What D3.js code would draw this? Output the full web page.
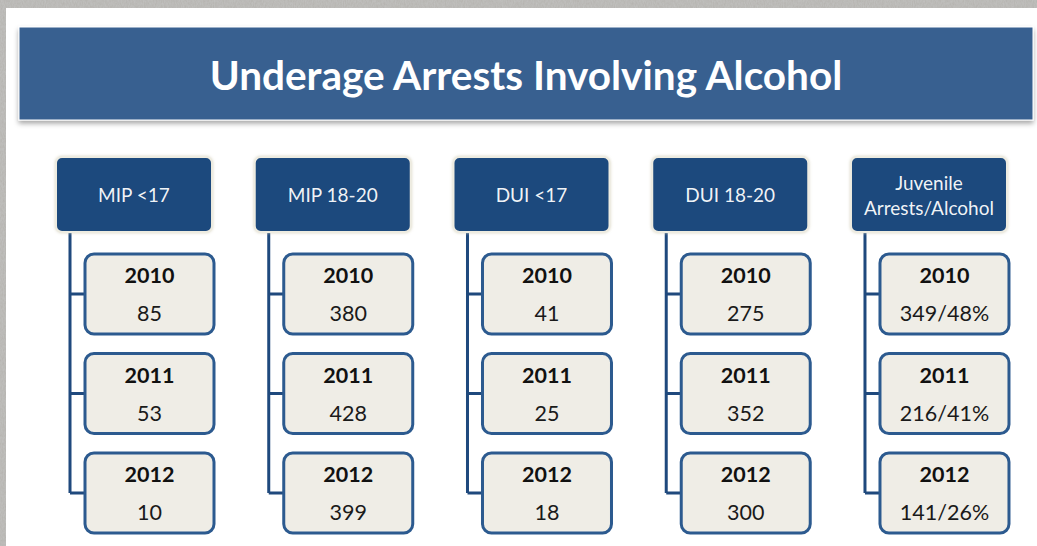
<!DOCTYPE html>
<html>
<head>
<meta charset="utf-8">
<script src="https://cdn.jsdelivr.net/npm/d3@7"></script>
<style>
  html, body { margin: 0; padding: 0; background: #a9a7a3; }
  svg { display: block; }
</style>
</head>
<body>
<div id="chart"></div>
<script>
'use strict'

// data
const title = "Underage Arrests Involving Alcohol";
const categories = ["MIP <17", "MIP 18-20", "DUI <17", "DUI 18-20", "Juvenile\nArrests/Alcohol"];
const years = ["2010", "2011", "2012"];
const values = [
  ["85", "53", "10"],
  ["380", "428", "399"],
  ["41", "25", "18"],
  ["275", "352", "300"],
  ["349/48%", "216/41%", "141/26%"]
];

// options
const width = 1037, height = 546;
const font = "Lato, 'Open Sans', sans-serif";
const dark = "#1f497d";
const titleBlue = "#386190";
const childFill = "#efede6";
const childStroke = "#2c5a8f";

const svg = d3.select('#chart').append('svg')
  .attr('width', width)
  .attr('height', height);

const defs = svg.append('defs');

// stone texture for the slide background
const tex = defs.append('filter').attr('id', 'stone')
  .attr('x', 0).attr('y', 0).attr('width', '100%').attr('height', '100%');
tex.append('feTurbulence')
  .attr('type', 'fractalNoise')
  .attr('baseFrequency', '0.9 0.35')
  .attr('numOctaves', 3)
  .attr('seed', 4)
  .attr('result', 'noise');
tex.append('feColorMatrix')
  .attr('type', 'matrix')
  .attr('values', '0 0 0 0 0.55  0 0 0 0 0.55  0 0 0 0 0.54  0 0 0 0.9 0')
  .attr('in', 'noise')
  .attr('result', 'tint');
tex.append('feComposite').attr('in', 'tint').attr('in2', 'SourceGraphic').attr('operator', 'over');

const shadow = defs.append('filter').attr('id', 'shadow')
  .attr('x', '-5%').attr('y', '-20%').attr('width', '110%').attr('height', '150%');
shadow.append('feDropShadow')
  .attr('dx', 0).attr('dy', 3).attr('stdDeviation', 2.5)
  .attr('flood-color', '#000').attr('flood-opacity', 0.35);

const glow = defs.append('filter').attr('id', 'glow')
  .attr('x', '-10%').attr('y', '-10%').attr('width', '120%').attr('height', '120%');
glow.append('feDropShadow')
  .attr('dx', 0).attr('dy', 0).attr('stdDeviation', 1.5)
  .attr('flood-color', '#d8d3c0').attr('flood-opacity', 0.9);

svg.append('rect')
  .attr('width', width).attr('height', height)
  .attr('fill', '#b4b2ae')
  .attr('filter', 'url(#stone)');

// white slide panel
svg.append('rect')
  .attr('x', 6).attr('y', 8)
  .attr('width', width - 6).attr('height', height)
  .attr('fill', '#ffffff');

// title bar
svg.append('rect')
  .attr('x', 19).attr('y', 27)
  .attr('width', 1014).attr('height', 93)
  .attr('fill', titleBlue)
  .attr('stroke', '#ffffff').attr('stroke-width', 1)
  .attr('filter', 'url(#shadow)');

svg.append('text')
  .attr('x', 526).attr('y', 74)
  .attr('text-anchor', 'middle')
  .attr('dominant-baseline', 'central')
  .attr('fill', '#ffffff')
  .attr('font-family', font)
  .attr('font-weight', 'bold')
  .attr('font-size', 40.5)
  .text(title);

////////////////////////////////////////
////////////// Scales //////////////////
////////////////////////////////////////

const x = d3.scaleBand()
  .domain(d3.range(categories.length))
  .range([56, 1007])
  .paddingInner(0.215)
  .paddingOuter(0);

const y = d3.scaleBand()
  .domain(years)
  .range([254, 533])
  .paddingInner(0.196)
  .paddingOuter(0);

const catTop = 157, catH = 75;
const lineOffset = 14, childOffset = 29, childW = 129;

const cols = svg.selectAll('.col')
  .data(categories.map((c, i) => ({ label: c, values: values[i], i: i })))
  .join('g')
  .attr('class', 'col')
  .attr('transform', d => `translate(${x(d.i)},0)`);

// connectors
cols.append('path')
  .attr('fill', 'none')
  .attr('stroke', dark)
  .attr('stroke-width', 3)
  .attr('d', d => {
    let p = `M${lineOffset},${catTop + catH} V${y(years[years.length - 1]) + y.bandwidth() / 2}`;
    years.forEach(yr => {
      p += ` M${lineOffset},${y(yr) + y.bandwidth() / 2} H${childOffset}`;
    });
    return p;
  });

// category boxes
cols.append('rect')
  .attr('x', 0).attr('y', catTop)
  .attr('width', x.bandwidth()).attr('height', catH)
  .attr('rx', 6).attr('ry', 6)
  .attr('fill', dark)
  .attr('stroke', '#eeece1').attr('stroke-width', 2)
  .attr('filter', 'url(#glow)');

cols.each(function (d) {
  const lines = d.label.split('\n');
  const t = d3.select(this).append('text')
    .attr('text-anchor', 'middle')
    .attr('fill', '#ffffff')
    .attr('font-family', font)
    .attr('font-size', 19)
    .attr('fill-opacity', 0.95);
  lines.forEach((l, j) => {
    t.append('tspan')
      .attr('x', x.bandwidth() / 2)
      .attr('y', catTop + catH / 2 + (j - (lines.length - 1) / 2) * 25)
      .attr('dominant-baseline', 'central')
      .text(l);
  });
});

// year boxes
const kids = cols.selectAll('.kid')
  .data(d => d.values.map((v, j) => ({ year: years[j], value: v })))
  .join('g')
  .attr('class', 'kid')
  .attr('transform', d => `translate(${childOffset},${y(d.year)})`);

kids.append('rect')
  .attr('width', childW).attr('height', y.bandwidth())
  .attr('rx', 9).attr('ry', 9)
  .attr('fill', childFill)
  .attr('stroke', childStroke)
  .attr('stroke-width', 3);

kids.append('text')
  .attr('x', childW / 2).attr('y', 21)
  .attr('text-anchor', 'middle')
  .attr('dominant-baseline', 'central')
  .attr('font-family', font)
  .attr('font-weight', 'bold')
  .attr('font-size', 21.5)
  .attr('fill', '#111')
  .text(d => d.year);

kids.append('text')
  .attr('x', childW / 2).attr('y', 59)
  .attr('text-anchor', 'middle')
  .attr('dominant-baseline', 'central')
  .attr('font-family', font)
  .attr('font-size', 21.5)
  .attr('fill', '#1a1a1a')
  .text(d => d.value);
</script>
</body>
</html>
